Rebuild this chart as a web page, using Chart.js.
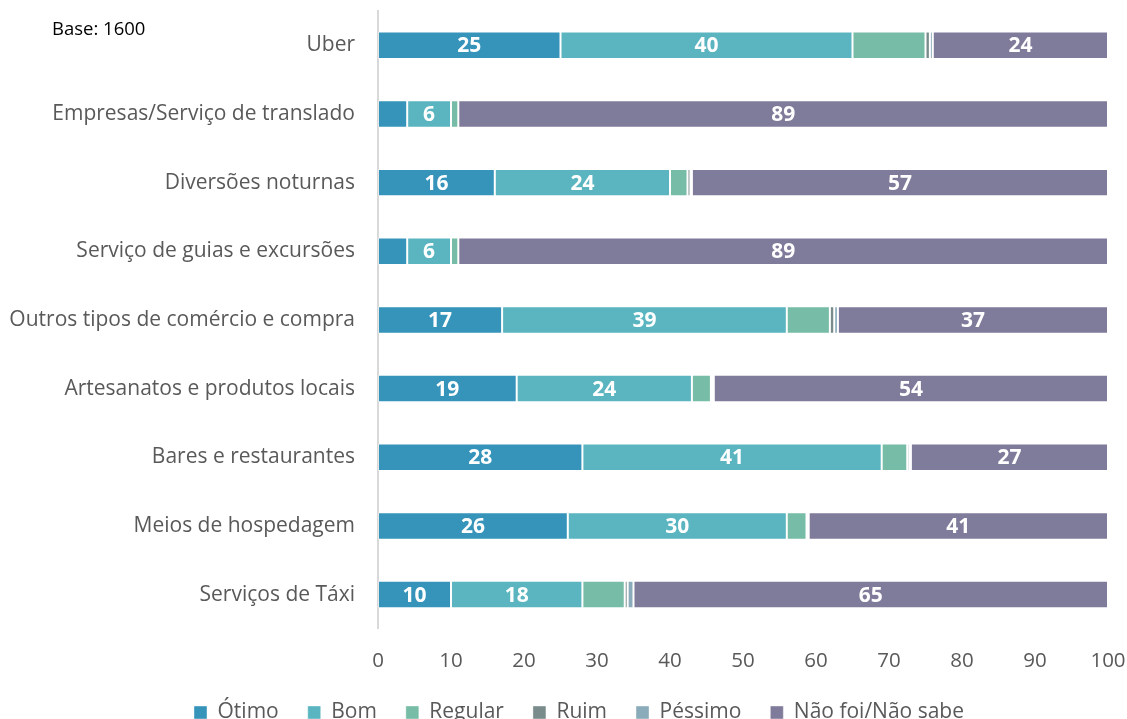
<!DOCTYPE html>
<html>
<head>
<meta charset="utf-8">
<script src="https://cdn.jsdelivr.net/npm/chart.js@4/dist/chart.umd.min.js"></script>
<style>
  html, body { margin: 0; padding: 0; background: #fff; }
  #wrap { position: relative; width: 1127px; height: 719px; overflow: hidden; }
  #base { position: absolute; left: 52px; top: 15px; font: 18.5px 'Open Sans', sans-serif; color: #000; }
</style>
</head>
<body>
<div id="wrap">
  <canvas id="chart" width="1127" height="719"></canvas>
  <div id="base">Base: 1600</div>
</div>
<script>
const categories = [
  'Uber',
  'Empresas/Serviço de translado',
  'Diversões noturnas',
  'Serviço de guias e excursões',
  'Outros tipos de comércio e compra',
  'Artesanatos e produtos locais',
  'Bares e restaurantes',
  'Meios de hospedagem',
  'Serviços de Táxi'
];

const otimo   = [25, 4, 16, 4, 17, 19, 28, 26, 10];
const bom     = [40, 6, 24, 6, 39, 24, 41, 30, 18];
const regular = [10, 1, 2.4, 1, 5.9, 2.6, 3.5, 2.7, 5.8];
const ruim    = [0.6, 0, 0.4, 0, 0.6, 0.2, 0.3, 0.2, 0.4];
const pessimo = [0.4, 0, 0.2, 0, 0.5, 0.2, 0.2, 0.1, 0.8];
const naoFoi  = [24, 89, 57, 89, 37, 54, 27, 41, 65];

const xTicks = [0, 10, 20, 30, 40, 50, 60, 70, 80, 90, 100];

// only these series get a number printed inside the bar
const labelled = ['Ótimo', 'Bom', 'Não foi/Não sabe'];

const FONT = "'Open Sans', sans-serif";

const seg = (label, data, color) => ({
  label, data,
  backgroundColor: color,
  borderColor: 'rgba(255,255,255,0.4)',
  borderWidth: 1,
  borderSkipped: false,
  categoryPercentage: 1,
  barPercentage: 0.4
});

const barLabels = {
  id: 'barLabels',
  afterDatasetsDraw(chart) {
    const ctx = chart.ctx;
    ctx.save();
    ctx.font = 'bold 21px ' + FONT;
    ctx.fillStyle = '#fff';
    ctx.textAlign = 'center';
    ctx.textBaseline = 'middle';
    chart.data.datasets.forEach((ds, i) => {
      if (!labelled.includes(ds.label)) return;
      chart.getDatasetMeta(i).data.forEach((bar, j) => {
        const v = ds.data[j];
        if (v < 5) return;
        const x = (bar.x + bar.base) / 2;
        ctx.fillText(Math.round(v), x, bar.y + 1);
      });
    });
    ctx.restore();
  }
};

// nudge the legend row a little to the right
const legendShift = {
  id: 'legendShift',
  afterLayout(chart) {
    chart.legend.left += 25;
    chart.legend.right += 25;
  }
};

new Chart(document.getElementById('chart'), {
  type: 'bar',
  data: {
    labels: categories,
    datasets: [
      seg('Ótimo', otimo, '#3694BB'),
      seg('Bom', bom, '#5AB5C0'),
      seg('Regular', regular, '#76BCA6'),
      seg('Ruim', ruim, '#7A8B8B'),
      seg('Péssimo', pessimo, '#8AABB9'),
      seg('Não foi/Não sabe', naoFoi, '#7F7B9A')
    ]
  },
  options: {
    indexAxis: 'y',
    responsive: false,
    animation: false,
    layout: { padding: { top: 11, right: 19, bottom: -14, left: 0 } },
    scales: {
      x: {
        stacked: true,
        min: 0,
        max: 100,
        afterBuildTicks(scale) { scale.ticks = xTicks.map(v => ({ value: v })); },
        afterFit(scale) { scale.paddingLeft = 0; scale.paddingRight = 0; },
        grid: { display: false, tickLength: 19.5 },
        border: { display: false },
        ticks: { color: '#595959', font: { family: FONT, size: 20.5 }, padding: 0 }
      },
      y: {
        stacked: true,
        afterFit(scale) { scale.width = 378; scale.paddingTop = 0; scale.paddingBottom = 0; },
        grid: { display: false },
        border: { color: '#D9D9D9', width: 2 },
        ticks: { color: '#595959', font: { family: FONT, size: 21 }, padding: 15 }
      }
    },
    plugins: {
      legend: {
        position: 'bottom',
        labels: {
          color: '#595959',
          font: { family: FONT, size: 21 },
          boxWidth: 13,
          boxHeight: 13,
          padding: 29
        }
      },
      tooltip: { enabled: false }
    }
  },
  plugins: [barLabels, legendShift]
});
</script>
</body>
</html>
